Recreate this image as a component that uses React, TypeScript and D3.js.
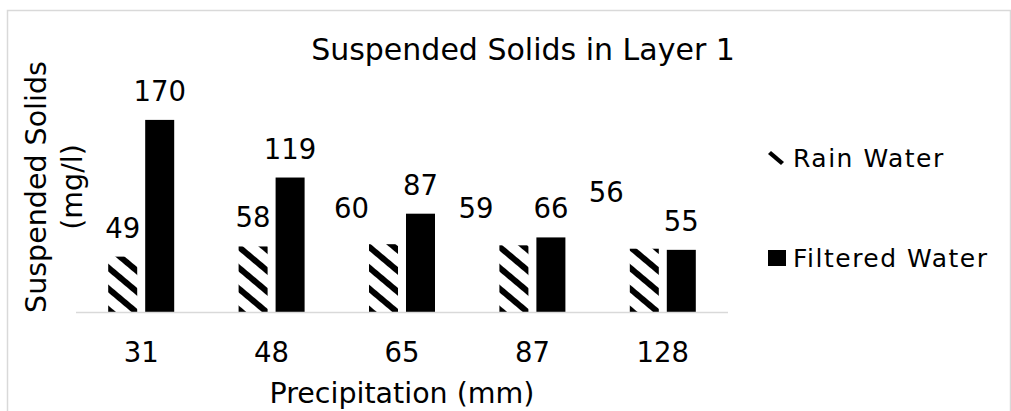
import { useEffect, useRef } from "react"
import * as d3 from "d3"

// Chart data
const precipitation = ["31", "48", "65", "87", "128"]
const seriesNames = ["Rain Water", "Filtered Water"]
const rainWater = [49, 58, 60, 59, 56]
const filteredWater = [170, 119, 87, 66, 55]

// Excel-style hand-moved data labels for rain water (dx, dy in px)
const rainLabelNudge = [
  [0, 0],
  [0, 0],
  [-32, -7],
  [-38, -8],
  [-38, -28],
]

const W = 1011
const H = 411
const FONT = "'DejaVu Sans', Verdana, sans-serif"

const App = () => {
  const svgRef = useRef<SVGSVGElement>(null)

  useEffect(() => {
    if (!svgRef.current) return
    const svg = d3.select(svgRef.current)
    svg.selectAll("*").remove()

    const plot = { left: 76, right: 728, top: 86, bottom: 312 }

    // hatch pattern for the rain water bars
    const defs = svg.append("defs")
    defs
      .append("pattern")
      .attr("id", "hatch")
      .attr("patternUnits", "userSpaceOnUse")
      .attr("width", 16)
      .attr("height", 16)
      .attr("patternTransform", "rotate(-50)")
      .append("rect")
      .attr("x", 0)
      .attr("y", 0)
      .attr("width", 6)
      .attr("height", 16)
      .attr("fill", "black")

    // outer chart border
    svg
      .append("rect")
      .attr("x", 7.5)
      .attr("y", 10.5)
      .attr("width", 1003)
      .attr("height", 440)
      .attr("fill", "white")
      .attr("stroke", "#d9d9d9")
      .attr("stroke-width", 1.5)

    const x0 = d3.scaleBand().domain(precipitation).range([plot.left, plot.right])
    const groupWidth = 66
    const x1 = d3.scaleBand().domain(seriesNames).range([0, groupWidth]).paddingInner(0.216)
    const y = d3.scaleLinear().domain([0, 200]).range([plot.bottom, plot.top])
    const groupOffset = (x0.bandwidth() - groupWidth) / 2

    const rows = precipitation.map((p, i) => ({
      p,
      i,
      values: [rainWater[i], filteredWater[i]],
    }))

    const groups = svg
      .append("g")
      .selectAll("g")
      .data(rows)
      .join("g")
      .attr("transform", (d) => `translate(${(x0(d.p) ?? 0) + groupOffset},0)`)

    groups
      .selectAll("rect")
      .data((d) => d.values.map((v, k) => ({ v, k, s: seriesNames[k] })))
      .join("rect")
      .attr("x", (d) => x1(d.s) ?? 0)
      .attr("y", (d) => y(d.v))
      .attr("width", x1.bandwidth())
      .attr("height", (d) => y(0) - y(d.v))
      .attr("fill", (d) => (d.k === 0 ? "url(#hatch)" : "black"))

    // data labels
    groups
      .selectAll("text")
      .data((d) =>
        d.values.map((v, k) => ({
          v,
          k,
          s: seriesNames[k],
          nudge: k === 0 ? rainLabelNudge[d.i] : [0, 0],
        }))
      )
      .join("text")
      .attr("x", (d) => (x1(d.s) ?? 0) + x1.bandwidth() / 2 + d.nudge[0])
      .attr("y", (d) => y(d.v) - 19 + d.nudge[1])
      .attr("text-anchor", "middle")
      .attr("font-family", FONT)
      .attr("font-size", 27.5)
      .attr("fill", "black")
      .text((d) => d.v)

    // x axis line
    svg
      .append("line")
      .attr("x1", plot.left)
      .attr("x2", plot.right)
      .attr("y1", plot.bottom + 0.5)
      .attr("y2", plot.bottom + 0.5)
      .attr("stroke", "#d9d9d9")
      .attr("stroke-width", 1.5)

    // x tick labels
    svg
      .append("g")
      .selectAll("text")
      .data(precipitation)
      .join("text")
      .attr("x", (d) => (x0(d) ?? 0) + x0.bandwidth() / 2)
      .attr("y", 362)
      .attr("text-anchor", "middle")
      .attr("font-family", FONT)
      .attr("font-size", 27.5)
      .text((d) => d)

    // title
    svg
      .append("text")
      .attr("x", 523)
      .attr("y", 60)
      .attr("text-anchor", "middle")
      .attr("font-family", FONT)
      .attr("font-size", 30)
      .text("Suspended Solids in Layer 1")

    // x axis title
    svg
      .append("text")
      .attr("x", (plot.left + plot.right) / 2)
      .attr("y", 403)
      .attr("text-anchor", "middle")
      .attr("font-family", FONT)
      .attr("font-size", 28.5)
      .text("Precipitation (mm)")

    // y axis title (two lines)
    const yTitle = svg
      .append("text")
      .attr("transform", "translate(0,187) rotate(-90)")
      .attr("text-anchor", "middle")
      .attr("font-family", FONT)
      .attr("font-size", 28.5)
    yTitle.append("tspan").attr("x", 0).attr("y", 46).text("Suspended Solids")
    yTitle.append("tspan").attr("x", 0).attr("y", 82).text("(mg/l)")

    // legend
    const legend = svg.append("g")
    legend
      .append("path")
      .attr("d", "M768,154 L771,151 L784,162 L781,165 Z")
      .attr("fill", "black")
    legend
      .append("rect")
      .attr("x", 768)
      .attr("y", 250)
      .attr("width", 18)
      .attr("height", 16)
      .attr("fill", "black")
    legend
      .selectAll("text")
      .data(seriesNames)
      .join("text")
      .attr("x", 793)
      .attr("y", (d, i) => 167 + i * 100)
      .attr("font-family", FONT)
      .attr("font-size", 25)
      .attr("letter-spacing", 1.5)
      .text((d) => d)
  }, [])

  return (
    <svg
      ref={svgRef}
      width={W}
      height={H}
      style={{ position: "absolute", left: 0, top: 0, background: "white" }}
    />
  )
}

export default App
